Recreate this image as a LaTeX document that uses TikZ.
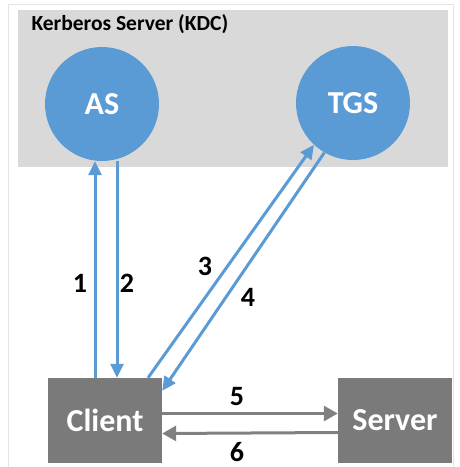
\documentclass[tikz,border=0pt]{standalone}
\usepackage{fontspec}
\setmainfont{Carlito}
\usetikzlibrary{arrows.meta}

\definecolor{kdcblue}{HTML}{5B9BD5}
\definecolor{kdcgray}{HTML}{D9D9D9}
\definecolor{hostgray}{HTML}{7A7A7A}
\definecolor{arrowgray}{HTML}{808080}
\definecolor{framegray}{HTML}{E4E4E4}

\begin{document}
\begin{tikzpicture}[x=1pt, y=-1pt,
	service/.style={circle, fill=kdcblue, minimum size=114pt, inner sep=0pt,
		text=white, font=\fontsize{32}{34}\selectfont\bfseries},
	host/.style={rectangle, fill=hostgray, minimum width=114pt, minimum height=85pt,
		inner sep=0pt, text=white, font=\fontsize{32}{34}\selectfont\bfseries},
	msg/.style={-{Triangle[length=14pt, width=13pt]}, line width=3pt, kdcblue},
	reply/.style={-{Triangle[length=14pt, width=15pt]}, line width=3pt, arrowgray},
	num/.style={font=\fontsize{28}{30}\selectfont\bfseries}]
	\useasboundingbox (0,0) rectangle (460,467);
	\draw[framegray, line width=1pt] (8,467) -- (8,4) -- (453,4) -- (453,467);
	\fill[kdcgray] (18,10) rectangle (448,167);

	\node[anchor=north west, font=\fontsize{21.5}{23}\selectfont\bfseries] (title) at (28,11) {Kerberos Server (KDC)};

	\node[service] (as) at (102,104) {AS};
	\node[service] (tgs) at (353,103) {TGS};
	\node[host] (client) at (105,420.5) {Client};
	\node[host] (server) at (395,420.5) {Server};

	\draw[msg] ([xshift=-10pt]client.north) -- ([xshift=-7pt]as.south);
	\draw[msg] ([xshift=15pt]as.south) -- ([xshift=12pt]client.north);
	\draw[msg] ([xshift=43pt]client.north) -- (tgs.227);
	\draw[msg] (tgs.240) -- ([yshift=-13pt]client.north east);

	\draw[reply] ([yshift=7pt]client.east) -- ([yshift=7pt]server.west);
	\draw[reply] ([yshift=-12pt]server.west) -- ([yshift=-13pt]client.east);

	\node[num] (n1) at (80,283) {1};
	\node[num] (n2) at (127,283) {2};
	\node[num] (n3) at (205,266) {3};
	\node[num] (n4) at (248,297) {4};
	\node[num] (n5) at (237,397) {5};
	\node[num] (n6) at (237,452) {6};
\end{tikzpicture}
\end{document}
